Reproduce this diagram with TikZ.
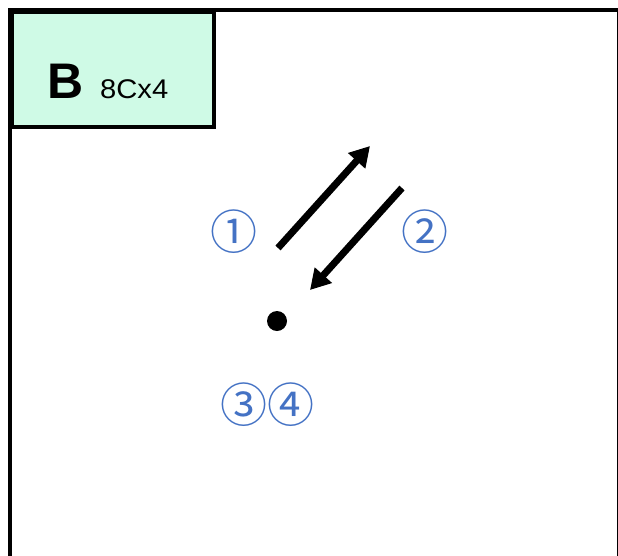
\documentclass[tikz,border=0pt]{standalone}
\usepackage{fontspec}
\setmainfont{Liberation Sans}
\newfontfamily\symfont{Noto Sans CJK JP}
\definecolor{mint}{HTML}{CFFAE6}
\definecolor{numblue}{HTML}{4472C4}
\tikzset{
  frameline/.style={draw=black, line width=4pt},
  arr/.style={draw=black, line width=7pt, -{Triangle[length=20pt,width=22pt]}},
  num/.style={text=numblue, font=\symfont\fontsize{47}{47}\selectfont, inner sep=0pt},
}
\usetikzlibrary{arrows.meta}
\begin{document}
\begin{tikzpicture}[x=1pt,y=-1pt]
\useasboundingbox (0,0) rectangle (618,555);
\begin{scope}
\clip (0,0) rectangle (618,555);
\draw[frameline] (10,9.5) rectangle (619,600);
\node[frameline, fill=mint, minimum width=202pt, minimum height=115pt, anchor=north west, inner sep=0pt] (box) at (10,9.5) {};
\end{scope}
\node[anchor=base west, inner sep=0pt, font=\bfseries\fontsize{50}{50}\selectfont] (B) at (47,98) {B};
\node[anchor=base west, inner sep=0pt, font=\fontsize{27}{27}\selectfont, xscale=1.08] (lab) at (100,98) {8Cx4};
\coordinate (a1s) at (278,248);
\coordinate (a1e) at (370,146);
\coordinate (a2s) at (402,188);
\coordinate (a2e) at (310,290);
\draw[arr] (a1s) -- (a1e);
\draw[arr] (a2s) -- (a2e);
\fill (277,321) circle (10pt);
\node[num] (n1) at (234,232) {①};
\node[num] (n2) at (425,232) {②};
\node[num] (n34) at (267,405) {③④};
\end{tikzpicture}
\end{document}
